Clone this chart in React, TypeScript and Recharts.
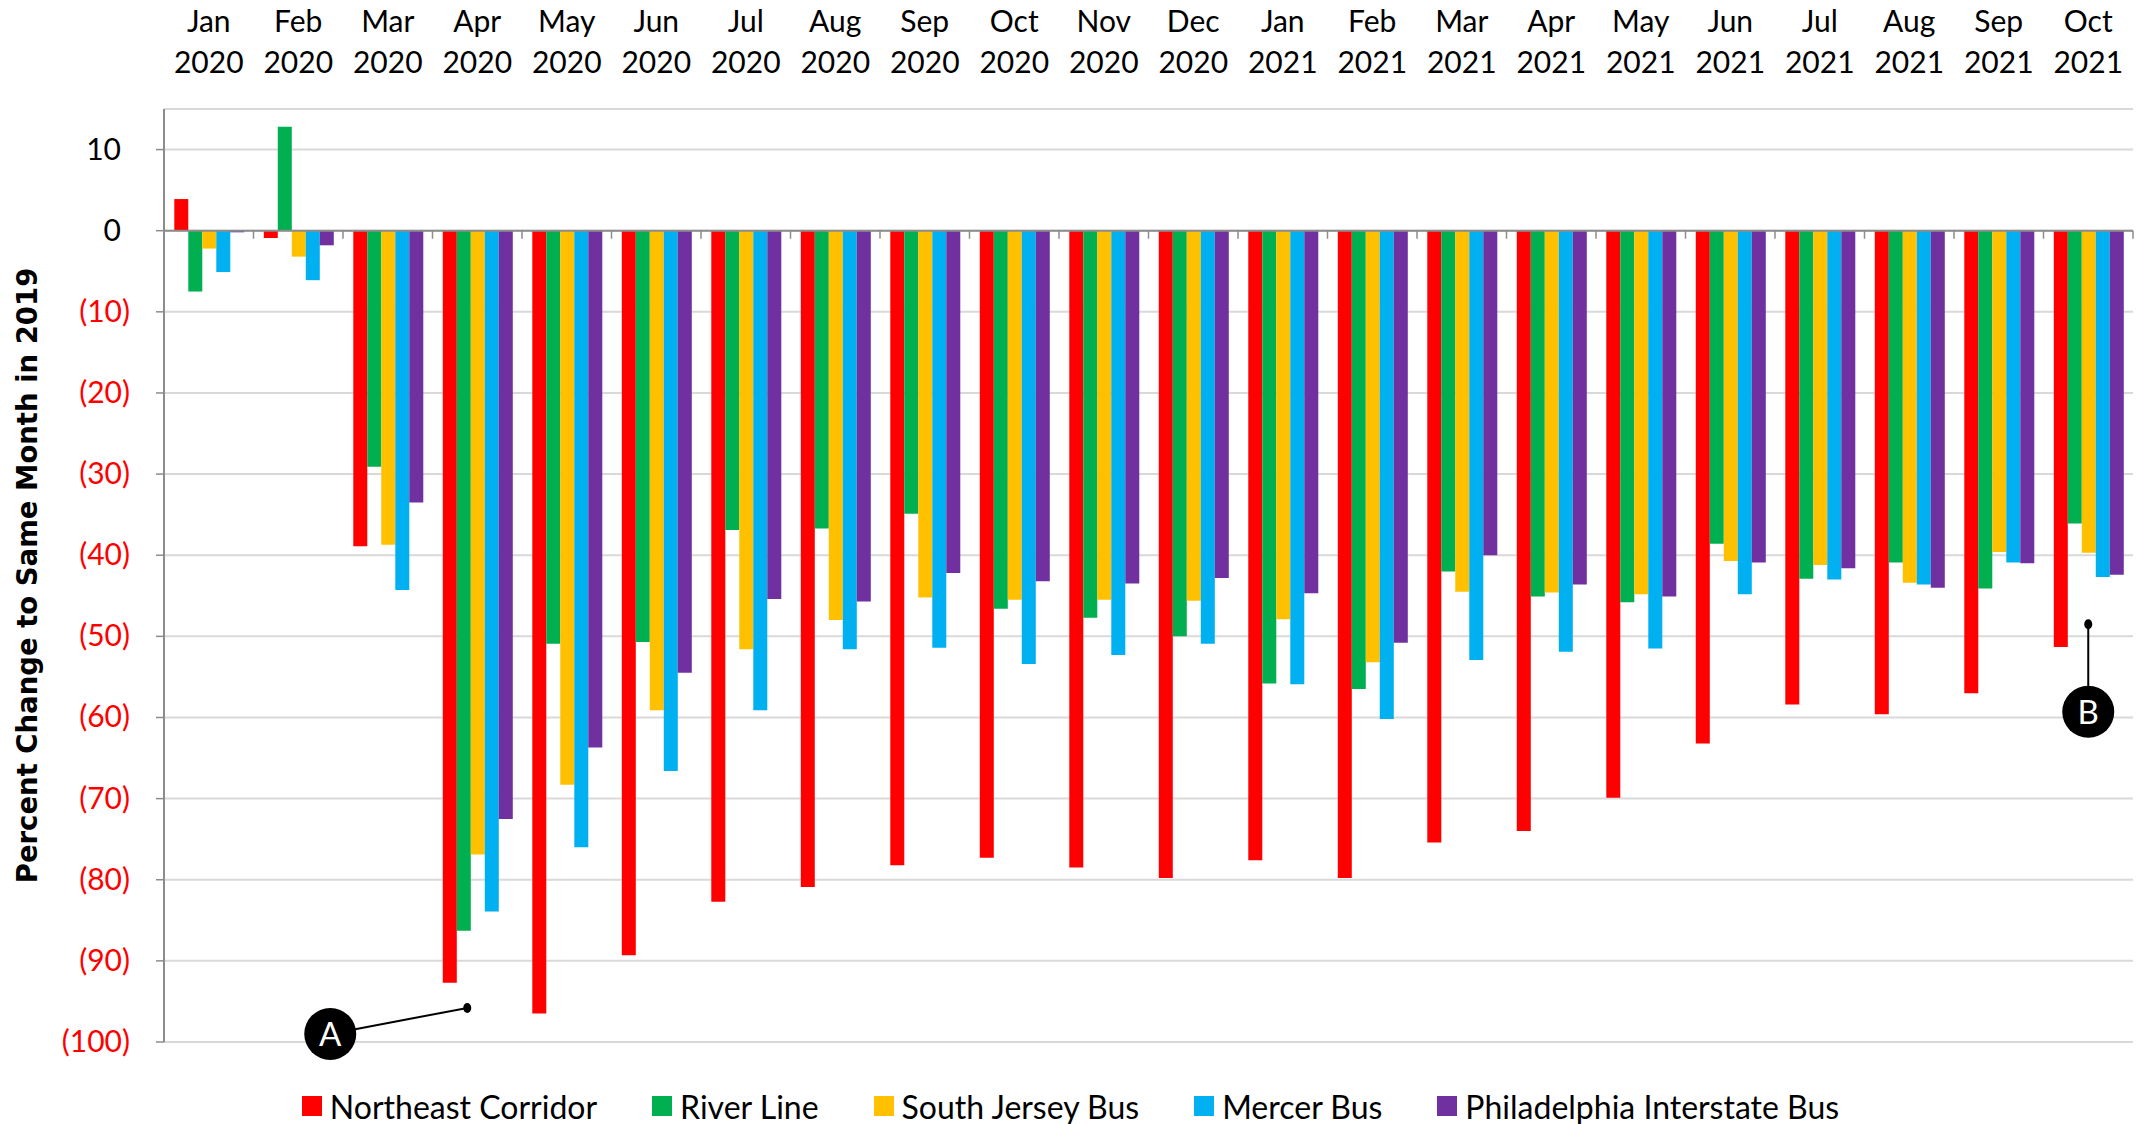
import {
  Bar,
  BarChart,
  CartesianGrid,
  Label,
  ReferenceDot,
  ReferenceLine,
  XAxis,
  YAxis,
} from 'recharts'

const months = ['Jan', 'Feb', 'Mar', 'Apr', 'May', 'Jun', 'Jul', 'Aug', 'Sep', 'Oct', 'Nov', 'Dec',
  'Jan', 'Feb', 'Mar', 'Apr', 'May', 'Jun', 'Jul', 'Aug', 'Sep', 'Oct']
const years = ['2020', '2020', '2020', '2020', '2020', '2020', '2020', '2020', '2020', '2020', '2020', '2020',
  '2021', '2021', '2021', '2021', '2021', '2021', '2021', '2021', '2021', '2021']

// percent change vs the same month of 2019
const northeastCorridor = [3.9, -0.9, -38.9, -92.7, -96.5, -89.3, -82.7, -80.9, -78.2, -77.3, -78.5,
  -79.8, -77.6, -79.8, -75.4, -74.0, -69.9, -63.2, -58.4, -59.6, -57.0, -51.3]
const riverLine = [-7.5, 12.8, -29.1, -86.3, -50.9, -50.7, -36.9, -36.7, -34.9, -46.6, -47.7, -50.0,
  -55.8, -56.5, -42.0, -45.1, -45.8, -38.6, -42.9, -40.9, -44.1, -36.1]
const southJerseyBus = [-2.2, -3.2, -38.7, -76.9, -68.3, -59.1, -51.6, -48.0, -45.2, -45.5, -45.5,
  -45.6, -47.9, -53.2, -44.5, -44.6, -44.8, -40.7, -41.2, -43.4, -39.6, -39.7]
const mercerBus = [-5.1, -6.1, -44.3, -83.9, -76.0, -66.6, -59.1, -51.6, -51.4, -53.4, -52.3, -50.9,
  -55.9, -60.2, -52.9, -51.9, -51.5, -44.8, -43.0, -43.6, -40.9, -42.7]
const philadelphiaInterstateBus = [-0.2, -1.8, -33.5, -72.5, -63.7, -54.5, -45.4, -45.7, -42.2, -43.2,
  -43.5, -42.8, -44.7, -50.8, -40.0, -43.6, -45.1, -40.9, -41.6, -44.0, -41.0, -42.4]

const yTicks = [-100, -90, -80, -70, -60, -50, -40, -30, -20, -10, 0, 10]

// callouts: where each pointer touches and where its bubble sits
const calloutA = { category: 'Apr 2020', tip: -95.8 }
const calloutB = { category: 'Oct 2021', tip: -48.5, bubble: -59.3 }

const series = [
  { key: 'northeast', name: 'Northeast Corridor', color: '#FF0000', values: northeastCorridor },
  { key: 'riverLine', name: 'River Line', color: '#00B050', values: riverLine },
  { key: 'southJersey', name: 'South Jersey Bus', color: '#FFC000', values: southJerseyBus },
  { key: 'mercer', name: 'Mercer Bus', color: '#00B0F0', values: mercerBus },
  { key: 'philly', name: 'Philadelphia Interstate Bus', color: '#7030A0', values: philadelphiaInterstateBus },
]

const data = months.map((m, i) => {
  const row: Record<string, string | number> = { category: `${m} ${years[i]}` }
  series.forEach((s) => { row[s.key] = s.values[i] })
  return row
})

const FONT = 'Lato, "Open Sans", sans-serif'
const AXIS_GRAY = '#8C8C8C'

function MonthTick({ x, y, payload }: any) {
  const [m, yr] = String(payload.value).split(' ')
  return (
    <g>
      <text x={x} y={y - 77} textAnchor="middle" fontFamily={FONT} fontSize={30} fill="#000">{m}</text>
      <text x={x} y={y - 36} textAnchor="middle" fontFamily={FONT} fontSize={30} fill="#000">{yr}</text>
    </g>
  )
}

// Excel style "#,##0_);(#,##0)" labels, negatives in red
function ValueTick({ x, y, payload }: any) {
  const v = Number(payload.value)
  const neg = v < 0
  return (
    <text x={neg ? x : x - 9} y={y} dy={10} textAnchor="end" fontFamily={FONT} fontSize={30}
      fill={neg ? '#FF0000' : '#000'}>
      {neg ? `(${-v})` : v}
    </text>
  )
}

// zero line doubles as the category axis, with ticks between the month groups
function ZeroAxis({ x1, y1, x2 }: any) {
  const n = data.length
  const step = (x2 - x1) / n
  return (
    <g>
      <line x1={x1} y1={y1} x2={x2} y2={y1} stroke={AXIS_GRAY} strokeWidth={2} />
      {data.map((_, i) => (
        <line key={i} x1={x1 + step * (i + 1)} y1={y1} x2={x1 + step * (i + 1)} y2={y1 + 8}
          stroke={AXIS_GRAY} strokeWidth={1.5} />
      ))}
    </g>
  )
}

function Bubble({ cx, cy, text }: { cx: number; cy: number; text: string }) {
  return (
    <g>
      <circle cx={cx} cy={cy} r={26} fill="#000" />
      <text x={cx} y={cy} dy={12} textAnchor="middle" fontFamily={FONT} fontSize={33} fill="#fff">{text}</text>
    </g>
  )
}

function CalloutA({ cx, cy }: any) {
  if (cx == null || cy == null) return null
  const tx = cx - 10
  return (
    <g>
      <line x1={tx} y1={cy} x2={tx - 137} y2={cy + 26} stroke="#000" strokeWidth={2} />
      <ellipse cx={tx} cy={cy} rx={4} ry={5} fill="#000" />
      <Bubble cx={tx - 137} cy={cy + 26} text="A" />
    </g>
  )
}

function TipDot({ cx, cy }: any) {
  if (cx == null || cy == null) return null
  return <ellipse cx={cx} cy={cy} rx={4} ry={5} fill="#000" />
}

function BubbleB({ cx, cy }: any) {
  if (cx == null || cy == null) return null
  return <Bubble cx={cx} cy={cy} text="B" />
}

function YTitle({ viewBox }: any) {
  const cy = viewBox.y + viewBox.height / 2
  return (
    <text x={27} y={cy} transform={`rotate(-90 27 ${cy})`} textAnchor="middle" dominantBaseline="central"
      fontFamily='"DejaVu Sans", Verdana, sans-serif' fontWeight="bold" fontSize={27.5} fill="#000">
      Percent Change to Same Month in 2019
    </text>
  )
}

export default function App() {
  return (
    <div style={{ position: 'absolute', left: 0, top: 0, width: 2141, height: 1124, background: '#fff' }}>
      <BarChart width={2141} height={1124} data={data} barGap={0} barCategoryGap="11.5%"
        margin={{ top: 0, right: 8, bottom: 82, left: 0 }}>
        <CartesianGrid vertical={false} stroke="#D9D9D9" strokeWidth={2} />
        <XAxis dataKey="category" orientation="top" height={109} interval={0} axisLine={false}
          tickLine={false} tickSize={0} tickMargin={0} tick={<MonthTick />} />
        <YAxis width={164} domain={[-100, 15]} ticks={yTicks} interval={0} tickSize={8} tickMargin={26}
          axisLine={{ stroke: AXIS_GRAY, strokeWidth: 2 }} tickLine={{ stroke: AXIS_GRAY, strokeWidth: 1.5 }}
          tick={<ValueTick />}>
          <Label content={<YTitle />} />
        </YAxis>
        {series.map((s) => (
          <Bar key={s.key} dataKey={s.key} name={s.name} fill={s.color} isAnimationActive={false} />
        ))}
        <ReferenceLine y={0} shape={<ZeroAxis />} />
        <ReferenceLine segment={[{ x: calloutB.category, y: calloutB.tip }, { x: calloutB.category, y: calloutB.bubble }]}
          stroke="#000" strokeWidth={2} />
        <ReferenceDot x={calloutB.category} y={calloutB.tip} shape={<TipDot />} />
        <ReferenceDot x={calloutB.category} y={calloutB.bubble} shape={<BubbleB />} />
        <ReferenceDot x={calloutA.category} y={calloutA.tip} shape={<CalloutA />} />
      </BarChart>
      <div style={{ position: 'absolute', left: 0, top: 1086, width: 2141, height: 40, display: 'flex',
        justifyContent: 'center', alignItems: 'center', gap: 55, fontFamily: FONT, fontSize: 32, color: '#000' }}>
        {series.map((s) => (
          <div key={s.key} style={{ display: 'flex', alignItems: 'center' }}>
            <span style={{ width: 20, height: 20, background: s.color, marginRight: 8, display: 'inline-block' }} />
            <span>{s.name}</span>
          </div>
        ))}
      </div>
    </div>
  )
}
